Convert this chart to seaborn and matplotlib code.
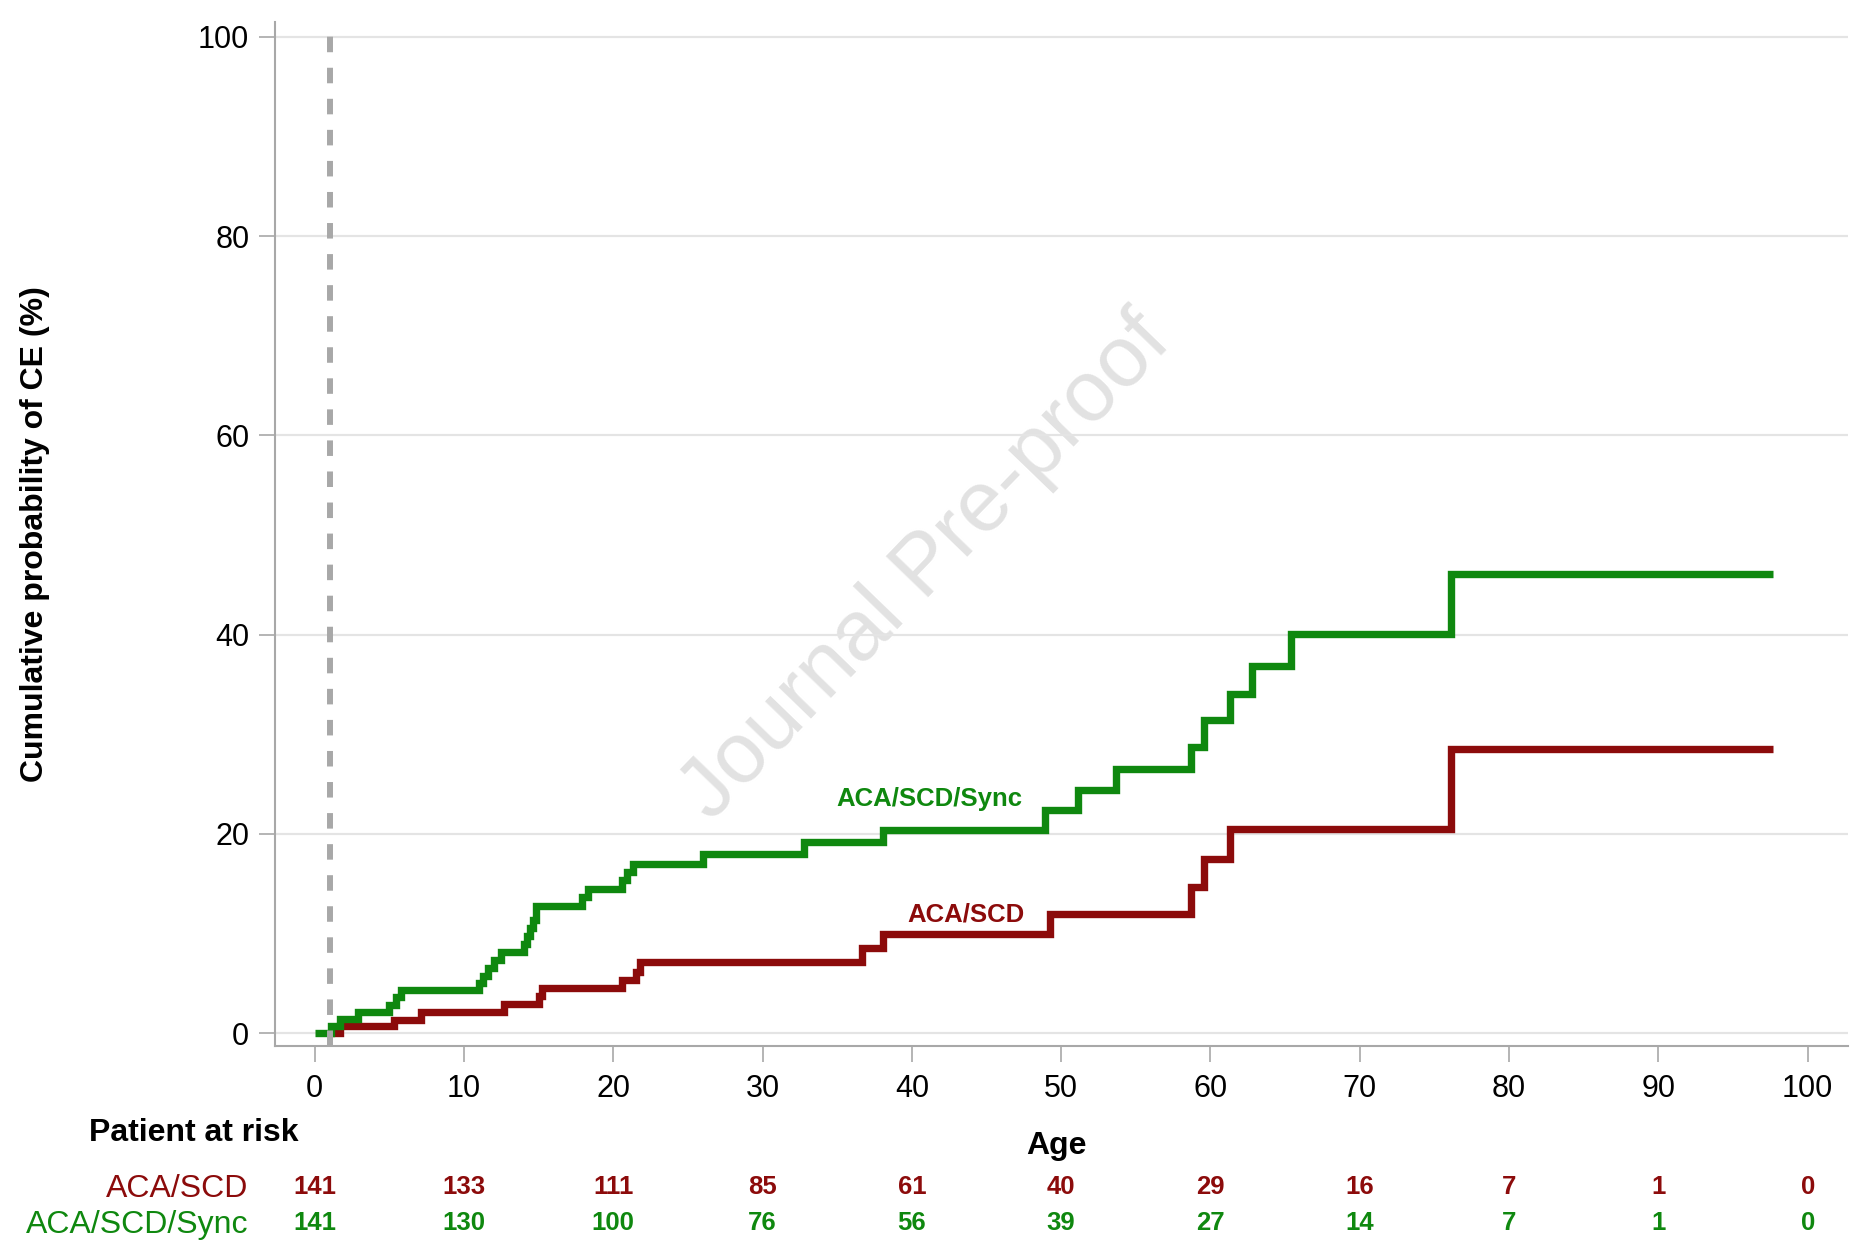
import numpy as np
import pandas as pd
import seaborn as sns
import matplotlib.pyplot as plt
import matplotlib.transforms as mtrans

# step points (age, cumulative %)
sync_age = [0, 1.13, 1.67, 2.93, 5.0, 5.45, 5.8, 11.0, 11.3, 11.6, 12.05, 12.5,
            14.0, 14.2, 14.4, 14.6, 14.8, 17.9, 18.3, 20.6, 20.9, 21.3, 26.0,
            32.8, 38.1, 48.9, 51.1, 53.7, 58.7, 59.6, 61.3, 62.8, 65.4, 76.1, 97.7]
sync_pct = [0, 0.7, 1.4, 2.1, 2.8, 3.6, 4.3, 5.05, 5.7, 6.5, 7.3, 8.1,
            8.9, 9.7, 10.5, 11.3, 12.8, 13.7, 14.5, 15.4, 16.2, 17.0, 18.0,
            19.2, 20.4, 22.4, 24.4, 26.5, 28.7, 31.4, 34.0, 36.8, 40.1, 46.1, 46.1]

scd_age = [1.1, 1.73, 5.3, 7.1, 12.7, 15.0, 15.2, 20.6, 21.5, 21.8, 36.65,
           38.1, 49.27, 58.7, 59.6, 61.3, 76.1, 97.7]
scd_pct = [0, 0.7, 1.36, 2.1, 2.9, 3.7, 4.5, 5.3, 6.1, 7.1, 8.5,
           9.94, 12.0, 14.7, 17.5, 20.45, 28.5, 28.5]

risk_ages = [0, 10, 20, 30, 40, 50, 60, 70, 80, 90, 100]
risk_scd = [141, 133, 111, 85, 61, 40, 29, 16, 7, 1, 0]
risk_sync = [141, 130, 100, 76, 56, 39, 27, 14, 7, 1, 0]

groups = ['ACA/SCD', 'ACA/SCD/Sync']
colors = {'ACA/SCD': '#8c0b0b', 'ACA/SCD/Sync': '#0f880f'}

sns.set_theme(style='white')
plt.rcParams['font.family'] = ['Liberation Sans', 'DejaVu Sans']

df = pd.concat([
    pd.DataFrame({'age': scd_age, 'pct': scd_pct, 'group': 'ACA/SCD'}),
    pd.DataFrame({'age': sync_age, 'pct': sync_pct, 'group': 'ACA/SCD/Sync'}),
], ignore_index=True)

W, H = 1875, 1244
fig = plt.figure(figsize=(W / 100, H / 100), dpi=100)
ax = fig.add_axes([275 / W, 1 - 1046 / H, (1848 - 275) / W, (1046 - 22) / H])

# watermark
ax.text(41.0, 46.7, 'Journal Pre-proof', rotation=46, fontsize=62, color='#e2e2e2',
        ha='center', va='center', zorder=0)

sns.lineplot(data=df, x='age', y='pct', hue='group', palette=colors, hue_order=groups,
             estimator=None, sort=False, drawstyle='steps-post', lw=5.3,
             solid_joinstyle='miter', solid_capstyle='butt',
             legend=False, ax=ax, zorder=2)

ax.axvline(1.05, color='#a8a8a8', lw=4.3, dashes=(2.6, 2.6), zorder=3)

ax.text(41.2, 23.5, 'ACA/SCD/Sync', color=colors['ACA/SCD/Sync'], fontsize=18.5,
        fontweight='bold', ha='center', va='center')
ax.text(43.6, 11.9, 'ACA/SCD', color=colors['ACA/SCD'], fontsize=18.5,
        fontweight='bold', ha='center', va='center')

ax.set_xlim(-2.65, 102.7)
ax.set_ylim(-1.3, 101.5)
ax.set_xticks(risk_ages)
ax.set_yticks(range(0, 101, 20))
ax.yaxis.grid(True, color='#e4e4e4', lw=1.6)
ax.xaxis.grid(False)
for s in ['top', 'right']:
    ax.spines[s].set_visible(False)
for s in ['left', 'bottom']:
    ax.spines[s].set_color('#a8a8a8')
    ax.spines[s].set_linewidth(1.5)

ax.tick_params(axis='x', bottom=True, length=11.5, width=1.2, color='#a8a8a8',
               pad=9, labelsize=22, labelcolor='black')
ax.tick_params(axis='y', left=True, length=11.5, width=1.2, color='#a8a8a8',
               pad=7, labelsize=22, labelcolor='black')

ax.set_xlabel('Age', fontsize=23, fontweight='bold', color='black')
ax.xaxis.set_label_coords((1056 - 275) / 1573, -0.083)
ax.set_ylabel('Cumulative probability of CE (%)', fontsize=23, fontweight='bold',
              color='black')
ax.yaxis.set_label_coords(-0.143, 0.5)

# patients at risk table
fig.text(89 / W, 1 - 1133 / H, 'Patient at risk', fontsize=23, fontweight='bold',
         ha='left', va='center', color='black')
fig.text(248 / W, 1 - 1189 / H, 'ACA/SCD', fontsize=23, ha='right', va='center',
         color=colors['ACA/SCD'])
fig.text(248 / W, 1 - 1225 / H, 'ACA/SCD/Sync', fontsize=23, ha='right', va='center',
         color=colors['ACA/SCD/Sync'])
trans = mtrans.blended_transform_factory(ax.transData, fig.transFigure)
for a, n1, n2 in zip(risk_ages, risk_scd, risk_sync):
    ax.text(a, 1 - 1187 / H, str(n1), transform=trans, fontsize=18.5, fontweight='bold',
            ha='center', va='center', color=colors['ACA/SCD'], clip_on=False)
    ax.text(a, 1 - 1223 / H, str(n2), transform=trans, fontsize=18.5, fontweight='bold',
            ha='center', va='center', color=colors['ACA/SCD/Sync'], clip_on=False)

plt.savefig('out.png', dpi=100)
